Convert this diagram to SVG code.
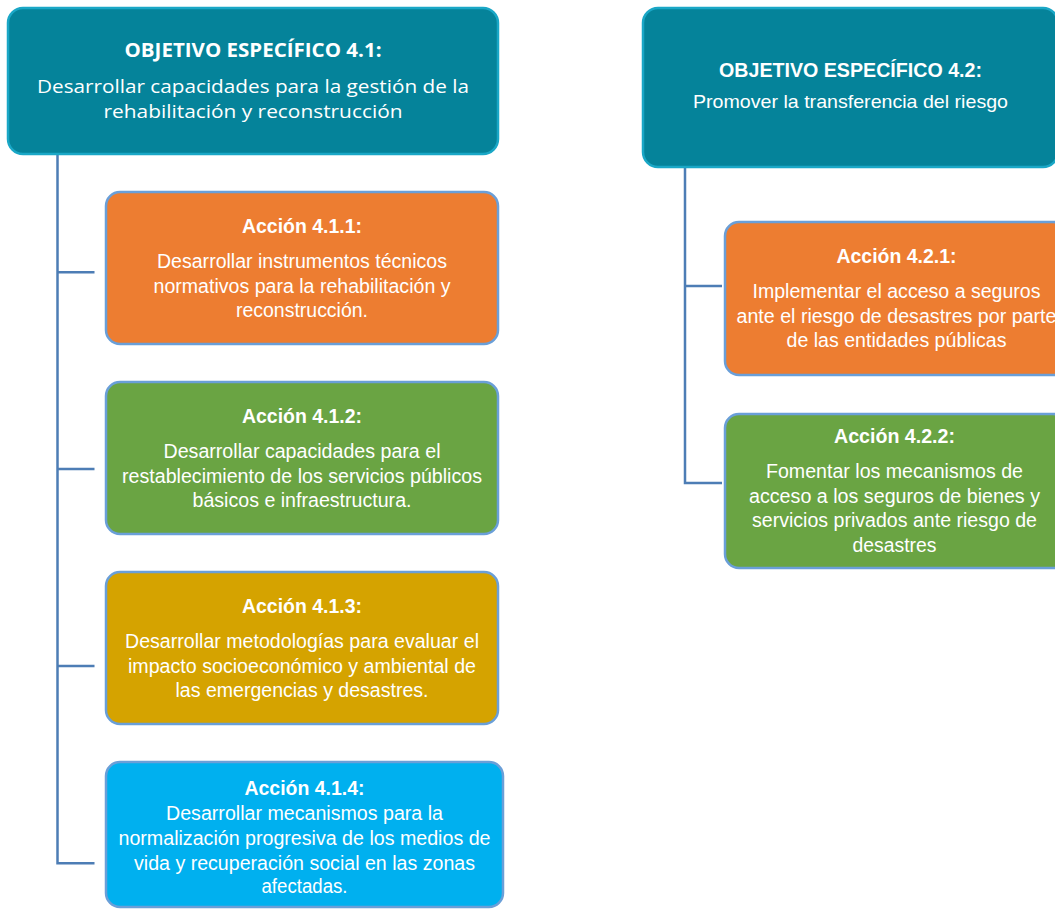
<svg xmlns="http://www.w3.org/2000/svg" width="1055" height="909" viewBox="0 0 1055 909">
<style>
.obj{fill:#05839A;stroke:#1AA7C6;stroke-width:2.5}
.act{stroke:#6A9FD8;stroke-width:2.5}
.or{fill:#ED7D31}.gr{fill:#6AA443}.go{fill:#D5A300}.bl{fill:#00B0EF}
.conn{fill:none;stroke:#4D7DB5;stroke-width:2.5}
text{fill:#FFFFFF;text-anchor:middle}
.ot{font-family:"Open Sans","Noto Sans",sans-serif;font-size:20px;font-weight:bold}
.ob{font-family:"Open Sans","Noto Sans",sans-serif;font-size:18.5px}
.nt{font-family:"Liberation Sans Narrow","Liberation Sans",Arial,sans-serif;font-size:21px;font-weight:bold}
.nb{font-family:"Liberation Sans Narrow","Liberation Sans",Arial,sans-serif;font-size:20px}
</style>
<g id="connectors">
<path class="conn" d="M57.5 154 V863.3 H94.5 M57.5 272.3 H94.5 M57.5 469 H94.5 M57.5 666 H94.5"/>
<path class="conn" d="M685 167 V483 H722 M685 286 H722"/>
</g>
<g id="obj41">
<rect class="obj" x="8" y="8" width="490" height="146" rx="15"/>
<text class="ot" x="253" y="56.5" textLength="257" lengthAdjust="spacingAndGlyphs">OBJETIVO ESPECÍFICO 4.1:</text>
<text class="ob" x="253" y="93" textLength="432" lengthAdjust="spacingAndGlyphs">Desarrollar capacidades para la gestión de la</text>
<text class="ob" x="253" y="118" textLength="299" lengthAdjust="spacingAndGlyphs">rehabilitación y reconstrucción</text>
</g>
<g id="obj42">
<rect class="obj" x="643" y="8" width="415" height="159" rx="15"/>
<text class="nt" x="850.5" y="77" textLength="263" lengthAdjust="spacingAndGlyphs" style="font-size:20px">OBJETIVO ESPECÍFICO 4.2:</text>
<text class="nb" x="850.5" y="108" textLength="315" lengthAdjust="spacingAndGlyphs" style="font-size:19px">Promover la transferencia del riesgo</text>
</g>
<g id="a411">
<rect class="act or" x="106" y="192" width="392" height="152" rx="14"/>
<text class="nt" x="302" y="233" textLength="120" lengthAdjust="spacingAndGlyphs">Acción 4.1.1:</text>
<text class="nb" x="302" y="268" textLength="290" lengthAdjust="spacingAndGlyphs">Desarrollar instrumentos técnicos</text>
<text class="nb" x="302" y="293" textLength="297" lengthAdjust="spacingAndGlyphs">normativos para la rehabilitación y</text>
<text class="nb" x="302" y="317" textLength="132" lengthAdjust="spacingAndGlyphs">reconstrucción.</text>
</g>
<g id="a412">
<rect class="act gr" x="106" y="382" width="392" height="152" rx="14"/>
<text class="nt" x="302" y="423" textLength="120" lengthAdjust="spacingAndGlyphs">Acción 4.1.2:</text>
<text class="nb" x="302" y="458" textLength="277" lengthAdjust="spacingAndGlyphs">Desarrollar capacidades para el</text>
<text class="nb" x="302" y="483" textLength="360" lengthAdjust="spacingAndGlyphs">restablecimiento de los servicios públicos</text>
<text class="nb" x="302" y="507" textLength="219" lengthAdjust="spacingAndGlyphs">básicos e infraestructura.</text>
</g>
<g id="a413">
<rect class="act go" x="106" y="572" width="392" height="152" rx="14"/>
<text class="nt" x="302" y="613" textLength="120" lengthAdjust="spacingAndGlyphs">Acción 4.1.3:</text>
<text class="nb" x="302" y="648" textLength="354" lengthAdjust="spacingAndGlyphs">Desarrollar metodologías para evaluar el</text>
<text class="nb" x="302" y="673" textLength="348" lengthAdjust="spacingAndGlyphs">impacto socioeconómico y ambiental de</text>
<text class="nb" x="302" y="697" textLength="253" lengthAdjust="spacingAndGlyphs">las emergencias y desastres.</text>
</g>
<g id="a414">
<rect class="act bl" x="106" y="762" width="397" height="145" rx="14"/>
<text class="nt" x="304.5" y="795" textLength="120" lengthAdjust="spacingAndGlyphs">Acción 4.1.4:</text>
<text class="nb" x="304.5" y="820" textLength="277" lengthAdjust="spacingAndGlyphs">Desarrollar mecanismos para la</text>
<text class="nb" x="304.5" y="845" textLength="372" lengthAdjust="spacingAndGlyphs">normalización progresiva de los medios de</text>
<text class="nb" x="304.5" y="870" textLength="341" lengthAdjust="spacingAndGlyphs">vida y recuperación social en las zonas</text>
<text class="nb" x="304.5" y="893" textLength="86" lengthAdjust="spacingAndGlyphs">afectadas.</text>
</g>
<g id="a421">
<rect class="act or" x="725" y="222" width="342" height="153" rx="14"/>
<text class="nt" x="896.5" y="263" textLength="120" lengthAdjust="spacingAndGlyphs">Acción 4.2.1:</text>
<text class="nb" x="896.5" y="298" textLength="288" lengthAdjust="spacingAndGlyphs">Implementar el acceso a seguros</text>
<text class="nb" x="896.5" y="323" textLength="320" lengthAdjust="spacingAndGlyphs">ante el riesgo de desastres por parte</text>
<text class="nb" x="896.5" y="347" textLength="220" lengthAdjust="spacingAndGlyphs">de las entidades públicas</text>
</g>
<g id="a422">
<rect class="act gr" x="725" y="414" width="342" height="154" rx="14"/>
<text class="nt" x="894.5" y="443" textLength="121" lengthAdjust="spacingAndGlyphs">Acción 4.2.2:</text>
<text class="nb" x="894.5" y="478" textLength="257" lengthAdjust="spacingAndGlyphs">Fomentar los mecanismos de</text>
<text class="nb" x="894.5" y="503" textLength="291" lengthAdjust="spacingAndGlyphs">acceso a los seguros de bienes y</text>
<text class="nb" x="894.5" y="527" textLength="285" lengthAdjust="spacingAndGlyphs">servicios privados ante riesgo de</text>
<text class="nb" x="894.5" y="552" textLength="84" lengthAdjust="spacingAndGlyphs">desastres</text>
</g>
</svg>
